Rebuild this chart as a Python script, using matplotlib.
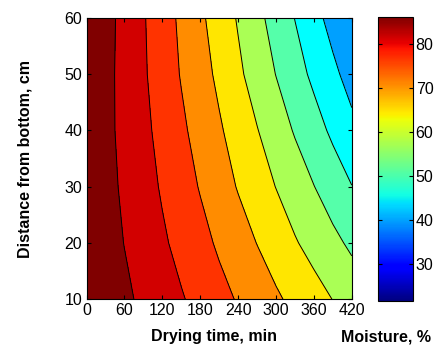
import numpy as np
import matplotlib
matplotlib.use('Agg')
import matplotlib.pyplot as plt
from matplotlib.colors import Normalize
from matplotlib.cm import ScalarMappable

plt.rcParams['font.family'] = ['Liberation Sans', 'DejaVu Sans']

# Drying time (min) and distance from bottom (cm)
time_min = [0, 30, 60, 90, 120, 150, 180, 210, 240, 270, 300, 330, 360, 390, 420]
height_cm = [10, 20, 30, 40, 50, 60]

# Moisture (%), one row per height
moisture = [
    [84.6, 82.8, 80.9, 79.1, 77.2, 75.4, 73.5, 71.5, 69.6, 67.7, 65.7, 63.8, 61.9, 59.9, 58.0],
    [84.3, 82.0, 79.9, 77.8, 75.7, 73.6, 71.5, 69.3, 67.1, 64.9, 62.7, 60.4, 58.3, 56.2, 54.1],
    [84.0, 81.6, 79.2, 76.9, 74.5, 72.1, 69.7, 67.2, 64.7, 62.3, 59.9, 57.5, 55.1, 52.6, 50.1],
    [83.8, 81.3, 78.7, 76.2, 73.5, 70.9, 68.2, 65.6, 62.9, 60.2, 57.4, 54.6, 51.9, 49.1, 46.3],
    [84.1, 81.4, 78.5, 75.6, 72.7, 69.7, 66.9, 64.0, 60.9, 57.9, 54.9, 51.9, 49.0, 46.1, 43.1],
    [84.6, 81.7, 78.5, 75.4, 72.2, 69.1, 65.9, 62.7, 59.6, 56.3, 53.1, 49.9, 46.6, 43.3, 40.1],
]

levels = [45, 50, 55, 60, 65, 70, 75, 80]
band_colors = ['#00a0ff', '#00ffff', '#55ffaa', '#aaff55', '#ffe600',
               '#ff8c00', '#ff3300', '#d20000', '#800000']
cbar_min, cbar_max = 21.6, 86.2
cbar_ticks = [30, 40, 50, 60, 70, 80]

T, H = np.meshgrid(time_min, height_cm)
M = np.array(moisture)

fig = plt.figure(figsize=(4.37, 3.47), dpi=100)
ax = fig.add_axes([0.198, 0.138, 0.607, 0.810])

ax.contourf(T, H, M, levels=[0] + levels + [100], colors=band_colors)
ax.contour(T, H, M, levels=levels, colors='black', linewidths=0.7)

ax.set_xlim(0, 420)
ax.set_ylim(10, 60)
ax.set_xticks(range(0, 421, 60))
ax.set_yticks(range(10, 61, 10))
ax.tick_params(direction='in', top=True, right=True, labelsize=11.5, length=3, pad=3)
ax.set_xlabel('Drying time, min', fontsize=11.5, fontweight='bold')
ax.set_ylabel('Distance from bottom, cm', fontsize=11.5, fontweight='bold')
ax.xaxis.set_label_coords(0.48, -0.105)
ax.yaxis.set_label_coords(-0.205, 0.5)

# colorbar
cax = fig.add_axes([0.865, 0.133, 0.080, 0.818])
sm = ScalarMappable(norm=Normalize(cbar_min, cbar_max), cmap='jet')
cb = fig.colorbar(sm, cax=cax, ticks=cbar_ticks)
cb.outline.set_linewidth(0.8)
cax.tick_params(direction='in', left=True, right=True, labelsize=11.5, length=3, pad=2)
cax.set_xlabel('Moisture, %', fontsize=11.5, fontweight='bold')
cax.xaxis.set_label_coords(0.23, -0.1)

fig.savefig('out.png', dpi=100)
